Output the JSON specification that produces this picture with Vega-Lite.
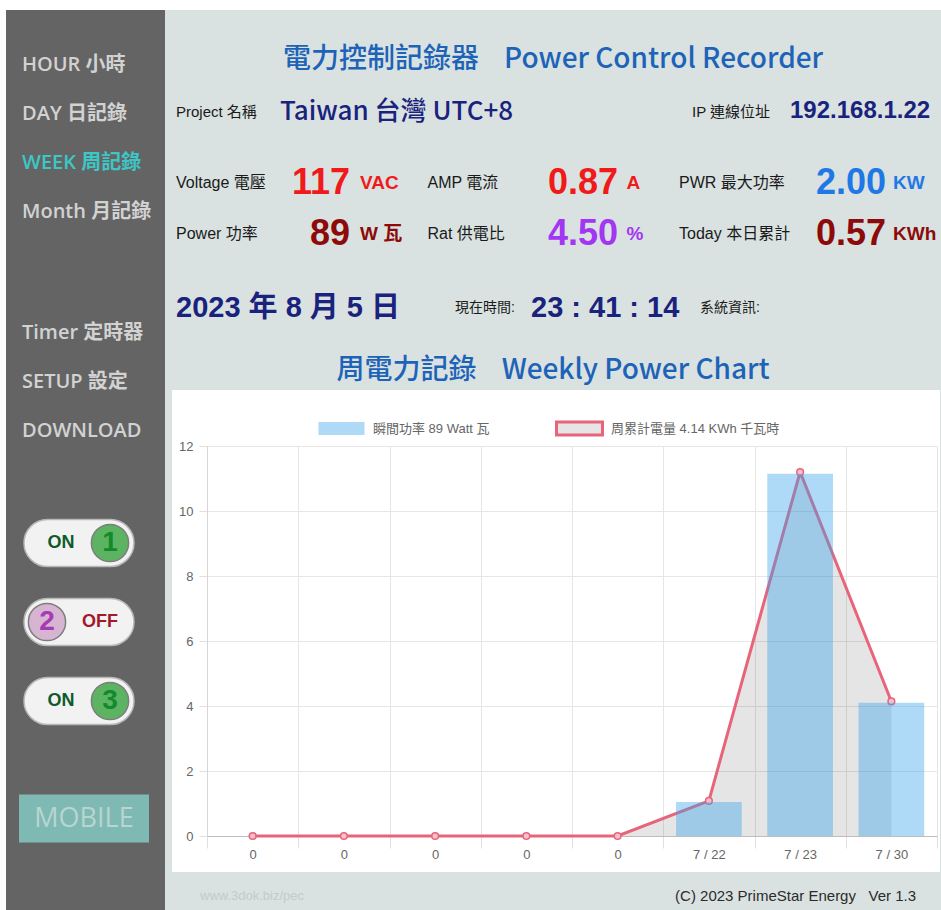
{
  "$schema": "https://vega.github.io/schema/vega-lite/v6.json",
  "background": "white",
  "padding": {"left": 6, "top": 10, "right": 0, "bottom": 0},
  "spacing": 0,
  "config": {
    "view": {"stroke": null},
    "concat": {"spacing": 0},
    "text": {"font": "Liberation Sans Narrow, Liberation Sans, Noto Sans CJK TC"}
  },
  "resolve": {
    "scale": {"color": "independent", "fill": "independent", "stroke": "independent"},
    "legend": {"color": "independent", "fill": "independent", "stroke": "independent"}
  },
  "hconcat": [
    {
      "spacing": 0,
      "resolve": {
        "scale": {"color": "independent", "fill": "independent", "stroke": "independent"},
        "legend": {"color": "independent", "fill": "independent", "stroke": "independent"}
      },
      "vconcat": [
        {
          "width": 159, "height": 262,
          "view": {"fill": "#646464", "stroke": null},
          "data": {"values": [
            {"item": "HOUR 小時", "page": "other"},
            {"item": "DAY 日記錄", "page": "other"},
            {"item": "WEEK 周記錄", "page": "current"},
            {"item": "Month 月記錄", "page": "other"}
          ]},
          "mark": {"type": "text", "align": "left", "baseline": "middle", "font": "Open Sans, Noto Sans CJK TC", "fontSize": 20, "fontWeight": 600},
          "encoding": {
            "y": {"field": "item", "type": "nominal", "sort": null, "axis": null, "scale": {"type": "point", "padding": 0, "range": [55, 202]}},
            "x": {"datum": "menu", "type": "nominal", "axis": null, "scale": {"type": "point", "padding": 0.5, "align": 0.1006}},
            "color": {"field": "page", "type": "nominal", "legend": null, "scale": {"domain": ["other", "current"], "range": ["#d2d2d2", "#3cc7c5"]}},
            "text": {"field": "item"}
          }
        },
        {
          "width": 159, "height": 198,
          "view": {"fill": "#646464", "stroke": null},
          "data": {"values": [
            {"item": "Timer 定時器"},
            {"item": "SETUP 設定"},
            {"item": "DOWNLOAD"}
          ]},
          "mark": {"type": "text", "align": "left", "baseline": "middle", "font": "Open Sans, Noto Sans CJK TC", "fontSize": 20, "fontWeight": 600, "fill": "#d2d2d2"},
          "encoding": {
            "y": {"field": "item", "type": "nominal", "sort": null, "axis": null, "scale": {"type": "point", "padding": 0, "range": [61, 159]}},
            "x": {"datum": "menu", "type": "nominal", "axis": null, "scale": {"type": "point", "padding": 0.5, "align": 0.1006}},
            "text": {"field": "item"}
          }
        },
        {
          "width": 159, "height": 290,
          "view": {"fill": "#646464", "stroke": null},
          "data": {"values": [
            {"switch": "1", "state": "ON"},
            {"switch": "2", "state": "OFF"},
            {"switch": "3", "state": "ON"}
          ]},
          "encoding": {
            "y": {"field": "switch", "type": "nominal", "sort": null, "axis": null, "scale": {"type": "point", "padding": 0, "range": [73, 231]}}
          },
          "layer": [
            {
              "mark": {"type": "point", "shape": "M-0.573,-0.427L0.573,-0.427A0.427,0.427 0 0 1 0.573,0.427L-0.573,0.427A0.427,0.427 0 0 1 -0.573,-0.427Z", "size": 12100, "filled": true, "fill": "#f2f2f2", "stroke": "#b8b8b8", "strokeWidth": 1.5, "opacity": 1},
              "encoding": {"x": {"datum": "switch", "type": "nominal", "axis": null, "scale": {"type": "point", "padding": 0.5, "align": 0.459}}}
            },
            {
              "mark": {"type": "point", "shape": "circle", "size": 1385, "filled": true, "stroke": "#7d7d7d", "strokeWidth": 1.5, "opacity": 1},
              "encoding": {
                "x": {"field": "state", "type": "nominal", "axis": null, "scale": {"type": "point", "domain": ["OFF", "ON"], "padding": 0, "range": [41, 104]}},
                "fill": {"field": "state", "type": "nominal", "legend": null, "scale": {"domain": ["ON", "OFF"], "range": ["#5cb462", "#d6b4d2"]}}
              }
            },
            {
              "mark": {"type": "text", "fontSize": 28, "fontWeight": "bold", "font": "Liberation Sans", "baseline": "middle", "align": "center"},
              "encoding": {
                "x": {"field": "state", "type": "nominal", "axis": null, "scale": {"type": "point", "domain": ["OFF", "ON"], "padding": 0, "range": [41, 104]}},
                "text": {"field": "switch"},
                "color": {"field": "state", "type": "nominal", "legend": null, "scale": {"domain": ["ON", "OFF"], "range": ["#138a2e", "#a53cb2"]}}
              }
            },
            {
              "mark": {"type": "text", "fontSize": 18, "fontWeight": "bold", "font": "Liberation Sans", "baseline": "middle", "align": "center"},
              "encoding": {
                "x": {"field": "state", "type": "nominal", "axis": null, "scale": {"type": "point", "domain": ["ON", "OFF"], "padding": 0, "range": [55, 94]}},
                "text": {"field": "state"},
                "color": {"field": "state", "type": "nominal", "legend": null, "scale": {"domain": ["ON", "OFF"], "range": ["#0f5a2b", "#a2182d"]}}
              }
            }
          ],
          "resolve": {"scale": {"x": "independent", "color": "independent", "fill": "independent"}}
        },
        {
          "width": 159, "height": 150,
          "view": {"fill": "#646464", "stroke": null},
          "data": {"values": [{"button": "MOBILE"}]},
          "encoding": {
            "y": {"field": "button", "type": "nominal", "axis": null, "scale": {"type": "point", "padding": 0.5, "align": 0.39}},
            "x": {"field": "button", "type": "nominal", "axis": null, "scale": {"type": "point", "padding": 0.5, "align": 0.4906}}
          },
          "layer": [
            {"mark": {"type": "point", "shape": "M-1,-0.369H1V0.369H-1Z", "size": 16900, "filled": true, "fill": "#7fb9b3", "strokeWidth": 0, "opacity": 1}},
            {"mark": {"type": "text", "fontSize": 27, "font": "Open Sans", "fill": "#b8d5d1", "baseline": "middle", "align": "center"}, "encoding": {"text": {"field": "button"}}}
          ]
        }
      ]
    },
    {
      "spacing": 0,
      "resolve": {
        "scale": {"color": "independent", "fill": "independent", "stroke": "independent"},
        "legend": {"color": "independent", "fill": "independent", "stroke": "independent"}
      },
      "vconcat": [
        {
          "width": 776, "height": 76,
          "view": {"fill": "#d9e2e0", "stroke": null},
          "data": {"values": [{"title": "電力控制記錄器\u00a0\u00a0\u00a0\u00a0Power Control Recorder"}]},
          "mark": {"type": "text", "font": "Noto Sans CJK TC", "fontSize": 28, "fontWeight": 500, "fill": "#1d63b8", "baseline": "middle", "align": "center", "dy": 12},
          "encoding": {"text": {"field": "title"}}
        },
        {
          "width": 776, "height": 59,
          "view": {"fill": "#d9e2e0", "stroke": null},
          "data": {"values": [
            {"col": "1", "role": "label", "text": "Project 名稱"},
            {"col": "3", "role": "label", "text": "IP 連線位址"},
            {"col": "1", "role": "name", "text": "Taiwan 台灣 UTC+8"},
            {"col": "3", "role": "address", "text": "192.168.1.22"}
          ]},
          "layer": [
            {
              "transform": [{"filter": {"field": "role", "equal": "label"}}],
              "mark": {"type": "text", "align": "left", "baseline": "middle", "fontSize": 15, "fill": "#1a1a1a", "dy": -4},
              "encoding": {
                "x": {"field": "col", "type": "nominal", "axis": null, "scale": {"type": "point", "domain": ["1", "3"], "padding": 0, "range": [11, 527]}},
                "text": {"field": "text"}
              }
            },
            {
              "transform": [{"filter": {"field": "role", "equal": "name"}}],
              "mark": {"type": "text", "align": "left", "baseline": "middle", "font": "Noto Sans CJK TC", "fontSize": 26, "fontWeight": 500, "fill": "#19237d", "dy": -4},
              "encoding": {
                "x": {"field": "col", "type": "nominal", "axis": null, "scale": {"type": "point", "domain": ["1", "3"], "padding": 0, "range": [115, 625]}},
                "text": {"field": "text"}
              }
            },
            {
              "transform": [{"filter": {"field": "role", "equal": "address"}}],
              "mark": {"type": "text", "align": "left", "baseline": "middle", "font": "Liberation Sans", "fontWeight": "bold", "fontSize": 24, "fill": "#19237d", "dy": -5},
              "encoding": {
                "x": {"field": "col", "type": "nominal", "axis": null, "scale": {"type": "point", "domain": ["1", "3"], "padding": 0, "range": [115, 625]}},
                "text": {"field": "text"}
              }
            }
          ],
          "resolve": {"scale": {"x": "independent"}}
        },
        {
          "width": 776, "height": 125,
          "view": {"fill": "#d9e2e0", "stroke": null},
          "data": {"values": [
            {"line": "1", "col": "1", "metric": "Voltage", "label": "Voltage 電壓", "value": "117", "unit": "VAC"},
            {"line": "1", "col": "2", "metric": "AMP", "label": "AMP 電流", "value": "0.87", "unit": "A"},
            {"line": "1", "col": "3", "metric": "PWR", "label": "PWR 最大功率", "value": "2.00", "unit": "KW"},
            {"line": "2", "col": "1", "metric": "Power", "label": "Power 功率", "value": "89", "unit": "W 瓦"},
            {"line": "2", "col": "2", "metric": "Rat", "label": "Rat 供電比", "value": "4.50", "unit": "%"},
            {"line": "2", "col": "3", "metric": "Today", "label": "Today 本日累計", "value": "0.57", "unit": "KWh"}
          ]},
          "encoding": {
            "y": {"field": "line", "type": "nominal", "axis": null, "scale": {"type": "point", "domain": ["1", "2"], "padding": 0, "range": [38, 89]}}
          },
          "layer": [
            {
              "mark": {"type": "text", "align": "left", "baseline": "middle", "fontSize": 16, "fill": "#1a1a1a"},
              "encoding": {
                "x": {"field": "col", "type": "nominal", "axis": null, "scale": {"type": "point", "domain": ["1", "2", "3"], "padding": 0, "range": [11, 514]}},
                "text": {"field": "label"}
              }
            },
            {
              "mark": {"type": "text", "align": "right", "baseline": "middle", "fontSize": 36, "fontWeight": "bold"},
              "encoding": {
                "x": {"field": "col", "type": "nominal", "axis": null, "scale": {"type": "point", "domain": ["1", "2", "3"], "padding": 0, "range": [185, 721]}},
                "text": {"field": "value"},
                "color": {"field": "metric", "type": "nominal", "legend": null, "scale": {"domain": ["Voltage", "AMP", "PWR", "Power", "Rat", "Today"], "range": ["#f01a1a", "#f01a1a", "#1f78e6", "#8c0a0a", "#a336f2", "#8c0a0a"]}}
              }
            },
            {
              "mark": {"type": "text", "align": "left", "baseline": "middle", "font": "Liberation Sans, Noto Sans CJK TC", "fontSize": 19, "fontWeight": "bold"},
              "encoding": {
                "x": {"field": "col", "type": "nominal", "axis": null, "scale": {"type": "point", "domain": ["1", "2", "3"], "padding": 0, "range": [195, 728]}},
                "text": {"field": "unit"},
                "color": {"field": "metric", "type": "nominal", "legend": null, "scale": {"domain": ["Voltage", "AMP", "PWR", "Power", "Rat", "Today"], "range": ["#f01a1a", "#f01a1a", "#1f78e6", "#8c0a0a", "#a336f2", "#8c0a0a"]}}
              }
            }
          ],
          "resolve": {"scale": {"x": "independent"}}
        },
        {
          "width": 776, "height": 70,
          "view": {"fill": "#d9e2e0", "stroke": null},
          "data": {"values": [
            {"col": "1", "kind": "clock", "text": "2023 年 8 月 5 日"},
            {"col": "2", "kind": "clock", "text": "23 : 41 : 14"},
            {"col": "2", "kind": "caption", "text": "現在時間:"},
            {"col": "3", "kind": "caption", "text": "系統資訊:"}
          ]},
          "layer": [
            {
              "transform": [{"filter": {"field": "kind", "equal": "clock"}}],
              "mark": {"type": "text", "align": "left", "baseline": "middle", "fontSize": 29, "fontWeight": "bold", "fill": "#19237d", "dy": 3},
              "encoding": {
                "x": {"field": "col", "type": "nominal", "axis": null, "scale": {"type": "point", "domain": ["1", "2"], "padding": 0, "range": [11, 366]}},
                "text": {"field": "text"}
              }
            },
            {
              "transform": [{"filter": {"field": "kind", "equal": "caption"}}],
              "mark": {"type": "text", "align": "left", "baseline": "middle", "fontSize": 14, "fill": "#1a1a1a", "dy": 3},
              "encoding": {
                "x": {"field": "col", "type": "nominal", "axis": null, "scale": {"type": "point", "domain": ["2", "3"], "padding": 0, "range": [290, 535]}},
                "text": {"field": "text"}
              }
            }
          ],
          "resolve": {"scale": {"x": "independent"}}
        },
        {
          "width": 776, "height": 50,
          "view": {"fill": "#d9e2e0", "stroke": null},
          "data": {"values": [{"title": "周電力記錄\u00a0\u00a0\u00a0\u00a0Weekly Power Chart"}]},
          "mark": {"type": "text", "font": "Noto Sans CJK TC", "fontSize": 28, "fontWeight": 500, "fill": "#1d63b8", "baseline": "middle", "align": "center", "dy": 6},
          "encoding": {"text": {"field": "title"}}
        },
        {
          "spacing": 0,
          "resolve": {
            "scale": {"color": "independent", "fill": "independent", "stroke": "independent"},
            "legend": {"color": "independent", "fill": "independent", "stroke": "independent"}
          },
          "hconcat": [
            {
              "width": 7, "height": 482,
              "view": {"fill": "#d9e2e0", "stroke": null},
              "data": {"values": []},
              "mark": {"type": "text"}
            },
            {
              "width": 768, "height": 482,
              "view": {"fill": "white", "stroke": null},
              "data": {"values": [
                {"day": "d1|0", "series": "周累計電量 4.14 KWh 千瓦時", "value": 0},
                {"day": "d2|0", "series": "周累計電量 4.14 KWh 千瓦時", "value": 0},
                {"day": "d3|0", "series": "周累計電量 4.14 KWh 千瓦時", "value": 0},
                {"day": "d4|0", "series": "周累計電量 4.14 KWh 千瓦時", "value": 0},
                {"day": "d5|0", "series": "周累計電量 4.14 KWh 千瓦時", "value": 0},
                {"day": "d6|7 / 22", "series": "周累計電量 4.14 KWh 千瓦時", "value": 1.08},
                {"day": "d7|7 / 23", "series": "周累計電量 4.14 KWh 千瓦時", "value": 11.2},
                {"day": "d8|7 / 30", "series": "周累計電量 4.14 KWh 千瓦時", "value": 4.14},
                {"day": "d1|0", "series": "瞬間功率 89 Watt 瓦", "value": 0},
                {"day": "d2|0", "series": "瞬間功率 89 Watt 瓦", "value": 0},
                {"day": "d3|0", "series": "瞬間功率 89 Watt 瓦", "value": 0},
                {"day": "d4|0", "series": "瞬間功率 89 Watt 瓦", "value": 0},
                {"day": "d5|0", "series": "瞬間功率 89 Watt 瓦", "value": 0},
                {"day": "d6|7 / 22", "series": "瞬間功率 89 Watt 瓦", "value": 1.05},
                {"day": "d7|7 / 23", "series": "瞬間功率 89 Watt 瓦", "value": 11.15},
                {"day": "d8|7 / 30", "series": "瞬間功率 89 Watt 瓦", "value": 4.1}
              ]},
              "encoding": {
                "x": {
                  "field": "day", "type": "nominal", "sort": null,
                  "scale": {"type": "band", "range": [35, 765], "paddingInner": 0, "paddingOuter": 0},
                  "axis": null
                },
                "y": {
                  "field": "value", "type": "quantitative",
                  "scale": {"domain": [0, 12], "range": [446, 56], "nice": false, "zero": true},
                  "axis": null
                }
              },
              "layer": [
                {
                  "transform": [{"filter": {"field": "series", "equal": "周累計電量 4.14 KWh 千瓦時"}}],
                  "mark": {"type": "area", "opacity": 1, "line": false},
                  "encoding": {
                    "x": {
                      "field": "day", "type": "nominal", "sort": null,
                      "axis": {"orient": "bottom", "offset": -36, "grid": false, "tickBand": "extent", "domainColor": "#bdbdbd", "tickColor": "#e0e0e0", "tickSize": 12, "labelPadding": 0, "labelAngle": 0, "labelFont": "Liberation Sans Narrow, Liberation Sans", "labelFontSize": 13, "labelColor": "#666666", "title": null, "labelExpr": "split(datum.label, '|')[1]"}
                    },
                    "y": {
                      "field": "value", "type": "quantitative",
                      "axis": {"orient": "left", "values": [0, 2, 4, 6, 8, 10, 12], "offset": -35, "grid": true, "gridColor": "#e6e6e6", "domainColor": "#d6d6d6", "tickColor": "#e0e0e0", "tickSize": 8, "labelPadding": 6, "labelFont": "Liberation Sans Narrow, Liberation Sans", "labelFontSize": 13, "labelColor": "#666666", "title": null}
                    },
                    "fill": {
                      "field": "series", "type": "nominal",
                      "scale": {"domain": ["瞬間功率 89 Watt 瓦", "周累計電量 4.14 KWh 千瓦時"], "range": ["rgba(54,162,235,0.4)", "rgba(0,0,0,0.1)"]},
                      "legend": {"orient": "none", "legendX": 145, "legendY": 14, "direction": "horizontal", "title": null, "symbolType": "M-1,-0.28H1V0.28H-1Z", "symbolSize": 2116, "symbolStrokeWidth": 3, "labelFontSize": 13, "labelColor": "#666666", "labelFont": "Liberation Sans Narrow, Liberation Sans, Noto Sans CJK TC", "labelOffset": 7, "labelLimit": 400, "columnPadding": 60, "padding": 0}
                    }
                  }
                },
                {
                  "transform": [{"filter": {"field": "series", "equal": "周累計電量 4.14 KWh 千瓦時"}}],
                  "mark": {"type": "line", "strokeWidth": 3},
                  "encoding": {
                    "stroke": {
                      "field": "series", "type": "nominal",
                      "scale": {"domain": ["瞬間功率 89 Watt 瓦", "周累計電量 4.14 KWh 千瓦時"], "range": ["rgba(0,0,0,0)", "#e8647a"]},
                      "legend": {"orient": "none", "legendX": 145, "legendY": 14, "direction": "horizontal", "title": null, "symbolType": "M-1,-0.28H1V0.28H-1Z", "symbolSize": 2116, "symbolStrokeWidth": 3, "labelFontSize": 13, "labelColor": "#666666", "labelFont": "Liberation Sans Narrow, Liberation Sans, Noto Sans CJK TC", "labelOffset": 7, "labelLimit": 400, "columnPadding": 60, "padding": 0}
                    }
                  }
                },
                {
                  "transform": [{"filter": {"field": "series", "equal": "周累計電量 4.14 KWh 千瓦時"}}],
                  "mark": {"type": "point", "shape": "circle", "size": 45, "filled": true, "fill": "#f6c1cc", "stroke": "#e8647a", "strokeWidth": 1.5, "opacity": 1},
                  "encoding": {
                    "x": {
                      "field": "day", "type": "nominal", "sort": null,
                      "axis": {"orient": "top", "offset": 0, "grid": true, "gridColor": "#e6e6e6", "tickBand": "extent", "labels": false, "ticks": false, "domain": false, "title": null}
                    }
                  }
                },
                {
                  "transform": [{"filter": {"field": "series", "equal": "瞬間功率 89 Watt 瓦"}}],
                  "mark": {"type": "bar", "width": {"band": 0.72}, "opacity": 1},
                  "encoding": {
                    "fill": {"field": "series", "type": "nominal"}
                  }
                }
              ],
              "resolve": {"axis": {"x": "independent", "y": "independent"}}
            },
            {
              "width": 1, "height": 482,
              "view": {"fill": "#d9e2e0", "stroke": null},
              "data": {"values": []},
              "mark": {"type": "text"}
            }
          ]
        },
        {
          "width": 776, "height": 38,
          "view": {"fill": "#d9e2e0", "stroke": null},
          "data": {"values": [
            {"side": "left", "text": "www.3dok.biz/pec"},
            {"side": "right", "text": "(C) 2023 PrimeStar Energy\u00a0\u00a0\u00a0Ver 1.3"}
          ]},
          "encoding": {
            "x": {"field": "side", "type": "nominal", "axis": null, "scale": {"type": "point", "domain": ["left", "right"], "padding": 0, "range": [35, 751]}},
            "text": {"field": "text"}
          },
          "layer": [
            {
              "transform": [{"filter": {"field": "side", "equal": "left"}}],
              "mark": {"type": "text", "align": "left", "baseline": "middle", "fontSize": 13, "fill": "#c3cbc9", "dy": 5}
            },
            {
              "transform": [{"filter": {"field": "side", "equal": "right"}}],
              "mark": {"type": "text", "align": "right", "baseline": "middle", "fontSize": 15, "fill": "#2b2b2b", "dy": 5}
            }
          ]
        }
      ]
    }
  ]
}
